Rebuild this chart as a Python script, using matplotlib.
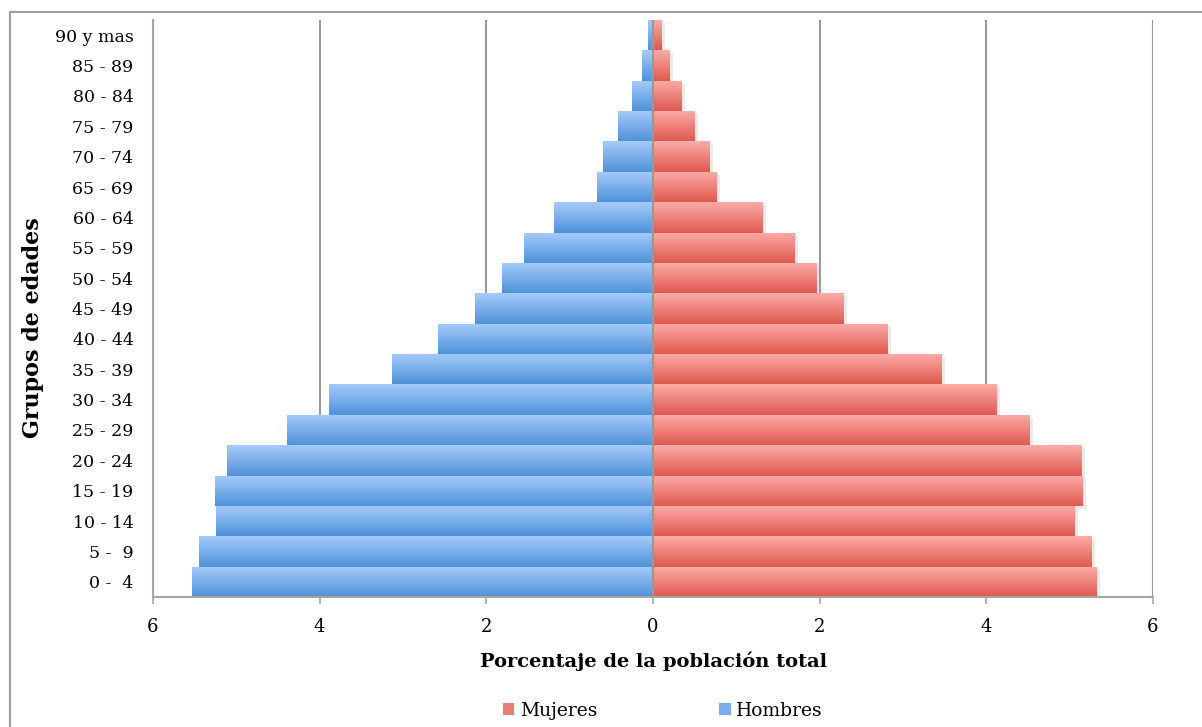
import matplotlib.pyplot as plt
import numpy as np
from matplotlib.colors import LinearSegmentedColormap
from matplotlib.patches import Rectangle, Patch
import matplotlib.patheffects as pe

# grupos de edades, de abajo hacia arriba
grupos = ["0 -  4", "5 -  9", "10 - 14", "15 - 19", "20 - 24", "25 - 29",
          "30 - 34", "35 - 39", "40 - 44", "45 - 49", "50 - 54", "55 - 59",
          "60 - 64", "65 - 69", "70 - 74", "75 - 79", "80 - 84", "85 - 89",
          "90 y mas"]

hombres = [5.53, 5.45, 5.24, 5.26, 5.11, 4.39, 3.89, 3.13, 2.58, 2.14,
           1.81, 1.55, 1.19, 0.67, 0.60, 0.42, 0.25, 0.13, 0.06]

mujeres = [5.32, 5.26, 5.06, 5.15, 5.14, 4.52, 4.12, 3.46, 2.82, 2.29,
           1.96, 1.70, 1.32, 0.76, 0.68, 0.50, 0.34, 0.20, 0.10]

ticks_x = [-6, -4, -2, 0, 2, 4, 6]

azul = LinearSegmentedColormap.from_list("azul", ["#4f92d8", "#a6cbfb"])
rojo = LinearSegmentedColormap.from_list("rojo", ["#de5a50", "#fdaba7"])

plt.rcParams['font.family'] = ['DejaVu Serif']

fig = plt.figure(figsize=(12.02, 7.27), dpi=100)
ax = fig.add_axes([153 / 1202, 1 - 597 / 727, 1000 / 1202, 577 / 727])

pos = np.arange(len(grupos))
sombra = [pe.SimplePatchShadow(offset=(2.5, -2), shadow_rgbFace="#999999", alpha=0.2), pe.Normal()]

barras_h = ax.barh(pos, [-v for v in hombres], height=1.0, color="#7aaee9", linewidth=0)
barras_m = ax.barh(pos, mujeres, height=1.0, color="#ec7d76", linewidth=0)

grad = np.linspace(0, 1, 64).reshape(-1, 1)
for barras, cmap in [(barras_h, azul), (barras_m, rojo)]:
    for b in barras:
        b.set_path_effects(sombra)
        x0, y0, w, h = b.get_x(), b.get_y(), b.get_width(), b.get_height()
        im = ax.imshow(grad, cmap=cmap, origin="lower", aspect="auto",
                       extent=[x0, x0 + w, y0, y0 + h], zorder=2)
        im.set_clip_path(b)

ax.axvline(0, color="#999999", lw=1.5, zorder=5)

ax.set_xlim(-6, 6)
ax.set_ylim(-0.5, len(grupos) - 0.5)
ax.set_xticks(ticks_x)
ax.set_xticklabels([str(abs(t)) for t in ticks_x])
ax.set_yticks(pos)
ax.set_yticklabels(grupos)

ax.set_axisbelow(True)
ax.grid(axis="x", color="#999999", lw=1.5)
ax.grid(axis="y", visible=False)

for s in ["top", "right"]:
    ax.spines[s].set_visible(False)
for s in ["left", "bottom"]:
    ax.spines[s].set_color("#a6a6a6")
    ax.spines[s].set_linewidth(1.5)

ax.tick_params(axis="x", length=5, width=1.2, color="#a6a6a6", pad=10, labelsize=13)
ax.tick_params(axis="y", length=0, pad=14, labelsize=12.5)

fig.text(654 / 1202, 1 - 661 / 727, "Porcentaje de la población total",
         ha="center", va="center", fontsize=14, fontweight="bold")
fig.text(33 / 1202, 1 - 328 / 727, "Grupos de edades", rotation=90,
         ha="center", va="center", fontsize=16, fontweight="bold")

handles = [Patch(facecolor="#ec7d76", label="Mujeres"),
           Patch(facecolor="#7aaee9", label="Hombres")]
fig.legend(handles=handles, loc="center", bbox_to_anchor=(663 / 1202, 1 - 711 / 727),
           ncol=2, frameon=False, fontsize=13.5, handlelength=0.6, handleheight=0.6,
           handletextpad=0.3, columnspacing=6.5, borderpad=0)

# marco exterior del grafico
fig.patches.append(Rectangle((10 / 1202, -0.1), 1.2, 1 - 12 / 727 + 0.1, transform=fig.transFigure,
                             fill=False, edgecolor="#a0a0a0", lw=1.5))

fig.savefig("out.png", dpi=100)
